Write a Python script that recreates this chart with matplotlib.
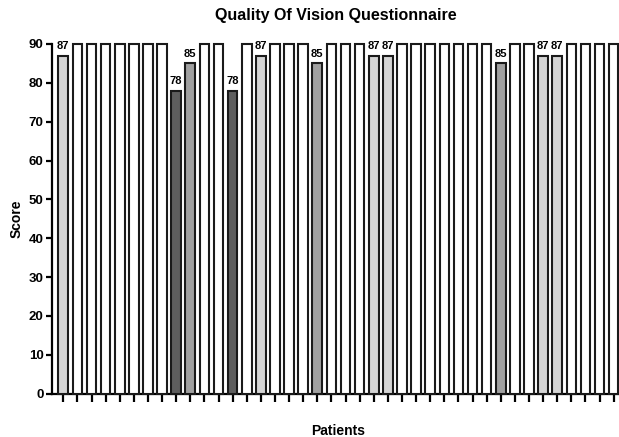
import matplotlib
matplotlib.use("Agg")
import matplotlib.pyplot as plt

plt.rcParams["font.family"] = ["Liberation Sans", "DejaVu Sans"]

scores = [87, 90, 90, 90, 90, 90, 90, 90, 78, 85,
          90, 90, 78, 90, 87, 90, 90, 90, 85, 90,
          90, 90, 87, 87, 90, 90, 90, 90, 90, 90,
          90, 85, 90, 90, 87, 87, 90, 90, 90, 90]
score_colors = {90: "#ffffff", 87: "#d4d4d4", 85: "#a0a0a0", 78: "#5e5e5e"}
yticks = list(range(0, 91, 10))

fig = plt.figure(figsize=(6.19, 4.37), dpi=100)
ax = fig.add_axes([52 / 619, 1 - 393.7 / 437, (619 - 52) / 619, (393.7 - 44) / 437])

x = list(range(len(scores)))
colors = [score_colors[s] for s in scores]
ax.bar(x, scores, width=0.68, color=colors, edgecolor="#1a1a1a", linewidth=1.5,
       zorder=3, clip_on=False)

for i, s in enumerate(scores):
    if s != 90:
        ax.text(i, s + 1.2, str(s), ha="center", va="bottom", fontsize=8, fontweight="bold")

ax.set_xlim(-0.8, len(scores) - 0.62)
ax.set_ylim(0, 90)
ax.set_yticks(yticks)
ax.set_yticklabels([str(t) for t in yticks], fontsize=9.5, fontweight="bold")
ax.set_xticks(x)
ax.set_xticklabels([])

for side in ["top", "right"]:
    ax.spines[side].set_visible(False)
for side in ["left", "bottom"]:
    ax.spines[side].set_linewidth(1.6)
ax.tick_params(axis="y", length=4, width=1.6, pad=2)
ax.tick_params(axis="x", length=6, width=1.6)

ax.set_title("Quality Of Vision Questionnaire", fontsize=11.5, fontweight="bold", pad=17)
ax.set_ylabel("Score", fontsize=10, fontweight="bold", labelpad=4)
fig.text(338 / 619, 1 - 431 / 437, "Patients", ha="center", va="center",
         fontsize=10, fontweight="bold")

fig.savefig("out.png", dpi=100)
